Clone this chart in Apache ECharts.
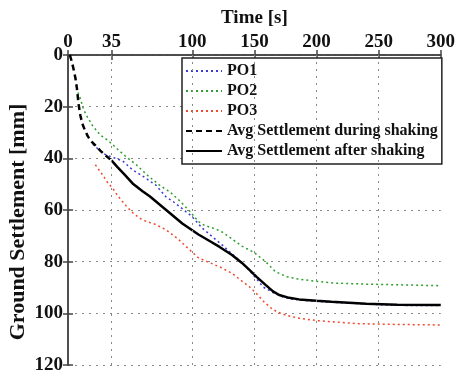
<!DOCTYPE html>
<html>
<head>
<meta charset="utf-8">
<script src="https://cdn.jsdelivr.net/npm/echarts@6/dist/echarts.min.js"></script>
<style>
  html, body { margin: 0; padding: 0; background: #fff; }
  #chart { width: 458px; height: 379px; }
</style>
</head>
<body>
<div id="chart"></div>
<script>
// Ground settlement vs time.
const timeTicks = [0, 35, 100, 150, 200, 250, 300];
const timeGrid = [35, 100, 150, 200, 250];

// [time s, settlement mm]
const po1 = [[20,34.5],[25,36.8],[30,38.5],[37,39.8],[44,41],[52,44.5],[55,45.3],[62,47.5],[71,50.5],[79,55],[84,56.5],[92,59.5],[100,62.6],[108,67],[116,70.3],[124,73.5],[132,77],[140,80.3],[146,83.5],[152,86.8],[157,89.8],[165,92],[172,93.5],[180,94.5],[195,95.2],[215,95.8],[240,96.4],[265,96.9],[300,97]];
const po2 = [[8,14.5],[10,17],[12.5,21],[15,23.5],[20,27.5],[26,31],[32,33],[40,36.5],[47,39.5],[55,42.5],[65,47],[74,50.5],[82,53],[90,56.5],[98,60.5],[105,64.5],[110,66],[118,67.2],[124,68.5],[132,71.2],[140,74],[150,76.5],[159,80],[167,83.9],[176,85.8],[186,86.8],[202,87.7],[215,88.3],[240,88.7],[270,89],[300,89.3]];
const po3 = [[22,42.5],[25,44.5],[28,46.5],[32,49.5],[36,51.6],[40,54.5],[47,58.5],[53,61.5],[60,63.9],[70,65.5],[79,67.7],[88,71],[97,75],[105,78.5],[112,80],[122,82],[132,84.5],[140,87.5],[146,89.7],[152,92.5],[157,95.2],[163,97.8],[168,99.4],[176,100.8],[186,101.9],[200,102.8],[210,103.2],[234,104],[265,104.3],[300,104.5]];
const avgDuring = [[1.5,0],[3,2.5],[4.5,5.5],[6,9],[7.2,13],[8.5,19],[10,23.5],[11.5,26.5],[13.5,29],[16,31.5],[19,33.5],[22,35],[26,37],[30,38.8],[35,40.8]];
const avgAfter = [[35,40.8],[40,43.5],[45,46],[52,49.7],[60,52.7],[66,54.8],[79,60],[92,65.2],[105,69.5],[115,72.3],[122,74.3],[132,77.4],[140,80.5],[146,83.2],[152,86],[159,89],[165,91.5],[170,92.9],[178,94],[186,94.6],[200,95.1],[212,95.5],[240,96.3],[265,96.7],[300,96.8]];

const FONT = '"Liberation Serif", "Times New Roman", serif';
const frame = { color: '#444', width: 1.5 };
const gridLine = { type: [2, 5], color: '#888', width: 1 };

const chart = echarts.init(document.getElementById('chart'));

function dotted(name, data, color) {
  return {
    name, type: 'line', data, symbol: 'none', z: 2,
    lineStyle: { color, width: 1.5, type: [2, 3] },
    itemStyle: { color },
  };
}

chart.setOption({
  animation: false,
  grid: { left: 68, top: 55, right: 15, bottom: 14 },
  legend: {
    data: ['PO1', 'PO2', 'PO3', 'Avg Settlement during shaking', 'Avg Settlement after shaking'],
    orient: 'vertical',
    left: 182, top: 58,
    backgroundColor: '#fff',
    borderColor: '#222', borderWidth: 1.5,
    padding: [5, 4, 5, 3],
    itemWidth: 36, itemHeight: 12, itemGap: 4,
    itemStyle: { opacity: 0 },
    textStyle: { color: '#111', fontFamily: FONT, fontWeight: 'bold', fontSize: 16 },
  },
  graphic: [{
    type: 'text', x: 18, y: 222, rotation: Math.PI / 2,
    style: {
      text: 'Ground Settlement [mm]', fill: '#111',
      font: 'bold 22px "Liberation Serif", serif',
      align: 'center', verticalAlign: 'middle',
    },
  }],
  xAxis: [
    {
      type: 'value', position: 'top', min: 0, max: 300,
      name: 'Time [s]', nameLocation: 'middle', nameGap: 27,
      nameTextStyle: { color: '#111', fontFamily: FONT, fontWeight: 'bold', fontSize: 19 },
      axisLine: { show: true, lineStyle: frame },
      axisTick: { inside: true, length: 5, customValues: timeTicks, lineStyle: frame },
      axisLabel: { customValues: timeTicks, margin: 3, color: '#111', fontFamily: FONT, fontWeight: 'bold', fontSize: 19 },
      splitLine: { show: false },
    },
    {
      type: 'value', position: 'bottom', min: 0, max: 300,
      axisLine: { show: true, lineStyle: frame },
      axisTick: { inside: true, length: 5, customValues: timeTicks, lineStyle: frame },
      axisLabel: { show: false },
      splitLine: { show: false },
    },
  ],
  yAxis: [
    {
      type: 'value', inverse: true, min: 0, max: 120, interval: 20,
      axisLine: { show: true, lineStyle: frame },
      axisTick: { inside: true, length: 5, lineStyle: frame },
      axisLabel: { margin: 5, color: '#111', fontFamily: FONT, fontWeight: 'bold', fontSize: 19 },
      splitLine: { show: true, lineStyle: gridLine },
    },
    {
      type: 'value', position: 'right', inverse: true, min: 0, max: 120, interval: 20,
      axisLine: { show: true, lineStyle: frame },
      axisTick: { inside: true, length: 5, lineStyle: frame },
      axisLabel: { show: false },
      splitLine: { show: false },
    },
  ],
  series: [
    {
      name: 'grid', type: 'line', data: [], z: 1,
      markLine: {
        silent: true, symbol: 'none', label: { show: false },
        lineStyle: gridLine,
        data: timeGrid.map(v => ({ xAxis: v })),
      },
    },
    dotted('PO1', po1, '#3b3bd6'),
    dotted('PO2', po2, '#2e9e2e'),
    dotted('PO3', po3, '#ee4a2e'),
    {
      name: 'Avg Settlement during shaking', type: 'line', data: avgDuring, symbol: 'none', z: 3,
      lineStyle: { color: '#000', width: 2.5, type: [6, 4] },
      itemStyle: { color: '#000' },
    },
    {
      name: 'Avg Settlement after shaking', type: 'line', data: avgAfter, symbol: 'none', z: 3,
      lineStyle: { color: '#000', width: 2.5 },
      itemStyle: { color: '#000' },
    },
  ],
});
</script>
</body>
</html>
